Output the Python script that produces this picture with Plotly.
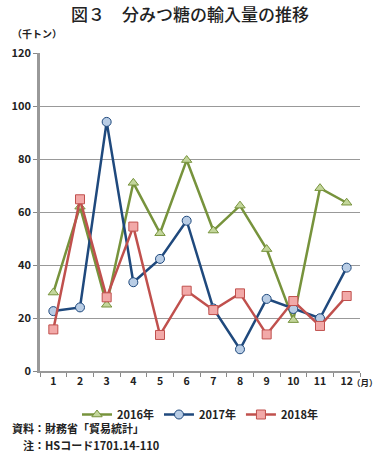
import plotly.graph_objects as go

months = [str(i) for i in range(1, 13)]
y2016 = [29.6, 62, 25, 71, 52, 79.6, 53, 62.4, 46, 19.2, 69, 63.5]
y2017 = [22.6, 24, 94, 33.5, 42.3, 56.7, 23.6, 8.2, 27.2, 23.4, 19.9, 39]
y2018 = [15.7, 64.8, 27.8, 54.5, 13.6, 30.3, 23, 29.3, 13.8, 26.4, 17, 28.3]
series_names = ["2016年", "2017年", "2018年"]
y_ticks = [0, 20, 40, 60, 80, 100, 120]

FONT = "Noto Sans CJK JP"
L, R, T, B = 33, 20, 53, 81
PW, PH = 380 - L - R, 452 - T - B

fig = go.Figure()
styles = [
    (y2016, "#77933C", "#C3D69B", "triangle-up", 9),
    (y2017, "#1F497D", "#B9CDE5", "circle", 9),
    (y2018, "#C0504D", "#F2A9A8", "square", 9),
]
for name, (ys, lc, fc, sym, sz) in zip(series_names, styles):
    fig.add_trace(go.Scatter(
        x=months, y=ys, name=name, mode="lines+markers",
        line=dict(color=lc, width=2.5),
        marker=dict(symbol=sym, size=sz, color=fc, line=dict(color=lc, width=1)),
    ))

TICKFONT = dict(size=11, family=FONT, color="#222", weight="bold")

fig.update_layout(
    width=380, height=452,
    margin=dict(l=L, r=R, t=T, b=B),
    paper_bgcolor="white", plot_bgcolor="white",
    font=dict(family=FONT, color="#222"),
    title=dict(text="図３　分みつ糖の輸入量の推移", x=0.5, xanchor="center",
               y=1 - 15 / 452, yanchor="middle",
               font=dict(size=17, family=FONT, color="#222", weight=500)),
    showlegend=True,
    legend=dict(orientation="h", x=0.5, xanchor="center", y=(371 - 400) / PH, yanchor="top",
                font=dict(size=11, family=FONT, weight="bold"), itemwidth=30, tracegroupgap=0),
    xaxis=dict(type="category", tickson="boundaries", ticks="outside", ticklen=4,
               tickcolor="#888", showline=True, linecolor="#999", linewidth=1.5,
               showgrid=False, tickfont=dict(TICKFONT, size=10.5), range=[-0.5, 11.5]),
    yaxis=dict(range=[0, 120], tickvals=y_ticks, ticks="outside", ticklen=4,
               tickcolor="#888", showline=True, linecolor="#999", linewidth=2.5,
               showgrid=True, gridcolor="#999", gridwidth=1,
               tickfont=TICKFONT, zeroline=False),
)

fig.add_annotation(text="（千トン）", xref="paper", yref="paper",
                   x=(2 - L) / PW, y=(371 - 33) / PH, xanchor="left", yanchor="middle",
                   showarrow=False, font=dict(size=10, family=FONT, color="#222", weight="bold"))
fig.add_annotation(text="（月）", xref="paper", yref="paper",
                   x=(380 - L) / PW, y=(371 - 382) / PH, xanchor="right", yanchor="middle",
                   showarrow=False,
                   font=dict(size=8.5, family=FONT, color="#222", weight="bold"))
fig.add_annotation(text="資料：財務省「貿易統計」", xref="paper", yref="paper",
                   x=(2 - L) / PW, y=(371 - 428) / PH, xanchor="left", yanchor="middle",
                   showarrow=False, font=dict(size=11, family=FONT, color="#222", weight="bold"))
fig.add_annotation(text="　注：HSコード1701.14-110", xref="paper", yref="paper",
                   x=(2 - L) / PW, y=(371 - 445) / PH, xanchor="left", yanchor="middle",
                   showarrow=False, font=dict(size=11, family=FONT, color="#222", weight="bold"))

fig.write_html("out.html", config={"displayModeBar": False},
               post_script="document.body.style.margin='0';document.body.style.overflow='hidden';")
